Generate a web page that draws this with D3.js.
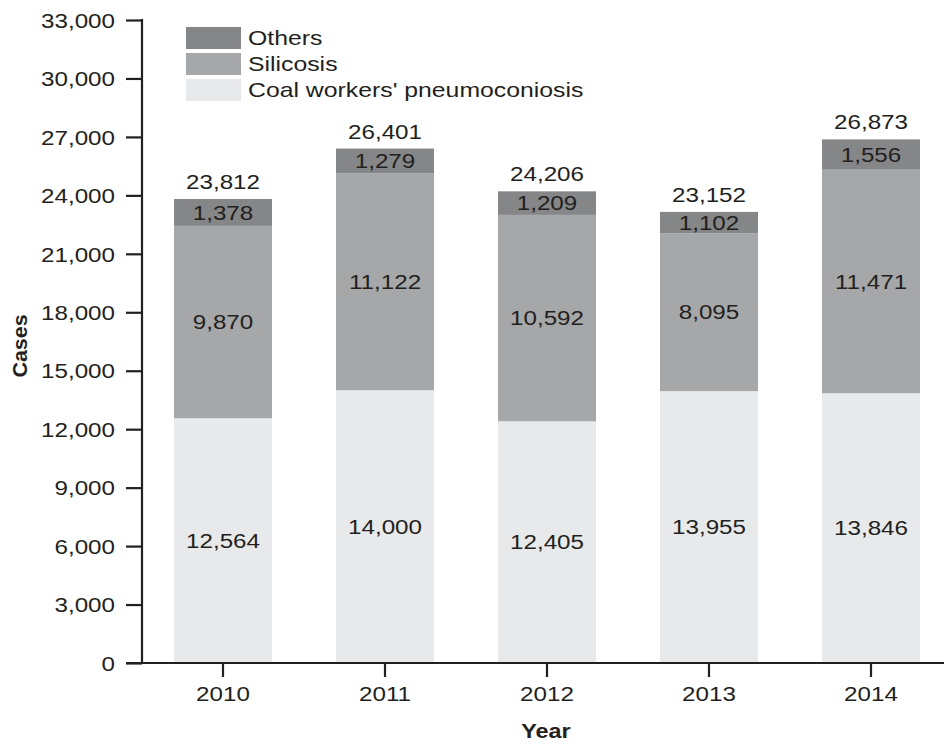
<!DOCTYPE html>
<html>
<head>
<meta charset="utf-8">
<script src="https://cdn.jsdelivr.net/npm/d3@7"></script>
<style>
  body { margin: 0; background: #fff; }
  text { font-family: "Liberation Sans", Arial, sans-serif; fill: #231f20; }
</style>
</head>
<body>
<svg id="chart" width="944" height="744"></svg>
<script>
// Pneumoconiosis cases by year, stacked by disease type
const years = ["2010", "2011", "2012", "2013", "2014"];
const coal = [12564, 14000, 12405, 13955, 13846];
const silicosis = [9870, 11122, 10592, 8095, 11471];
const others = [1378, 1279, 1209, 1102, 1556];
const totals = [23812, 26401, 24206, 23152, 26873];
const yTicks = [0, 3000, 6000, 9000, 12000, 15000, 18000, 21000, 24000, 27000, 30000, 33000];

const seriesNames = ["Coal workers' pneumoconiosis", "Silicosis", "Others"];
const seriesColors = ["#e8e9ea", "#a6a7a9", "#858688"];

const svg = d3.select("#chart");
const fmt = d3.format(",");
const SX = 1.21;          // horizontal widening of the lettering
const FS = "20px";

// place a horizontally widened text at (px, py)
function wideText(sel, px, py, sx) {
  return sel.attr("x", 0).attr("y", 0)
    .attr("transform", (d, i, n) => {
      const X = typeof px === "function" ? px(d, i, n) : px;
      const Y = typeof py === "function" ? py(d, i, n) : py;
      return `translate(${X},${Y}) scale(${sx},1)`;
    });
}

const x = d3.scaleBand().domain(years).range([142, 952]).paddingInner(0.395).paddingOuter(0.1975);
const y = d3.scaleLinear().domain([0, 33000]).range([663, 20]);

const rows = years.map((yr, i) => ({ year: yr, coal: coal[i], silicosis: silicosis[i], others: others[i], total: totals[i] }));
const stack = d3.stack().keys(["coal", "silicosis", "others"]);
const layers = stack(rows);

// Bars and segment values
const g = svg.append("g");
layers.forEach((layer, li) => {
  g.selectAll(null).data(layer).join("rect")
    .attr("x", d => x(d.data.year))
    .attr("width", x.bandwidth())
    .attr("y", d => y(d[1]))
    .attr("height", d => y(d[0]) - y(d[1]))
    .attr("fill", seriesColors[li]);
  wideText(g.selectAll(null).data(layer).join("text"),
      d => x(d.data.year) + x.bandwidth() / 2,
      d => (y(d[0]) + y(d[1])) / 2, SX)
    .attr("dy", "0.36em")
    .attr("text-anchor", "middle")
    .style("font-size", FS)
    .text(d => fmt(d[1] - d[0]));
});

// Totals above bars
wideText(g.selectAll(null).data(rows).join("text"),
    d => x(d.year) + x.bandwidth() / 2,
    d => y(d.total) - 10, SX)
  .attr("text-anchor", "middle")
  .style("font-size", FS)
  .text(d => fmt(d.total));

// Y axis
const yAxis = svg.append("g").attr("transform", "translate(142,0)")
  .call(d3.axisLeft(y).tickValues(yTicks).tickFormat(fmt).tickSize(16).tickSizeOuter(0));
yAxis.select(".domain").attr("stroke", "#231f20").attr("stroke-width", 2.2).attr("d", "M0,19V664");
yAxis.selectAll(".tick line").attr("stroke", "#231f20").attr("stroke-width", 2.2);
yAxis.selectAll(".tick text")
  .attr("x", 0).attr("y", 0).attr("dy", "0.36em")
  .attr("transform", `translate(-27,0) scale(${SX},1)`)
  .style("font-size", FS).attr("fill", "#231f20")
  .style("font-family", "'Liberation Sans', Arial, sans-serif");

// X axis
const xAxis = svg.append("g").attr("transform", "translate(0,663)")
  .call(d3.axisBottom(x).tickSize(14).tickSizeOuter(0));
xAxis.select(".domain").attr("stroke", "#231f20").attr("stroke-width", 2.2).attr("d", "M126,0H944");
xAxis.selectAll(".tick line").attr("stroke", "#231f20").attr("stroke-width", 2.2);
xAxis.selectAll(".tick text")
  .attr("x", 0).attr("y", 0).attr("dy", 0)
  .attr("transform", `translate(0,38) scale(${SX},1)`)
  .style("font-size", FS).attr("fill", "#231f20")
  .style("font-family", "'Liberation Sans', Arial, sans-serif");

// Axis titles
svg.append("text").attr("text-anchor", "middle")
  .attr("transform", "translate(546,738) scale(1.2,1)")
  .style("font-size", "19.5px").style("font-weight", "bold").text("Year");
svg.append("text").attr("text-anchor", "middle")
  .attr("transform", "translate(27,346) rotate(-90) scale(1.1,1)")
  .style("font-size", "19.5px").style("font-weight", "bold").text("Cases");

// Legend (top to bottom: Others, Silicosis, Coal)
const legendOrder = [2, 1, 0];
const lg = svg.append("g");
legendOrder.forEach((si, k) => {
  const top = 27 + k * 26;
  lg.append("rect").attr("x", 186).attr("y", top).attr("width", 55).attr("height", 22).attr("fill", seriesColors[si]);
  lg.append("text").attr("dy", "0.36em")
    .attr("transform", `translate(248,${top + 11}) scale(1.24,1)`)
    .style("font-size", FS).text(seriesNames[si]);
});
</script>
</body>
</html>
